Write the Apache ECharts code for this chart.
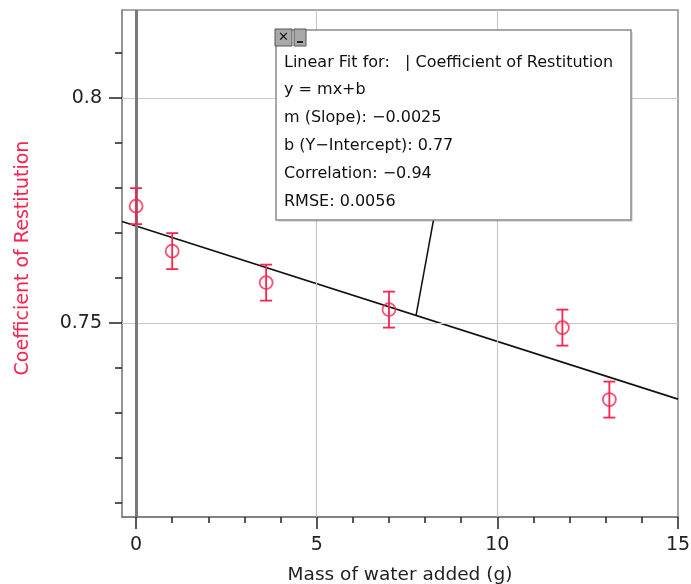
<!DOCTYPE html>
<html><head><meta charset="utf-8">
<script src="https://cdn.jsdelivr.net/npm/echarts@6/dist/echarts.min.js"></script>
<style>html,body{margin:0;padding:0;background:#fff}#c{width:691px;height:584px}</style>
</head><body><div id="c"></div>
<script>
const massX = [0, 1.0, 3.6, 7.0, 11.8, 13.1];
const cor = [0.776, 0.766, 0.759, 0.753, 0.749, 0.733];
const corErr = [0.004, 0.004, 0.004, 0.004, 0.004, 0.004];
const fitX = [-0.39, 15];
const fitY = [0.7726, 0.7331];
const xMajor = [0, 5, 10, 15];
const xMinor = [0,1,2,3,4,5,6,7,8,9,10,11,12,13,14,15];
const yMajor = [0.75, 0.8];
const yMinor = [0.71,0.72,0.73,0.74,0.75,0.76,0.77,0.78,0.79,0.80,0.81];
const fitText = [
  'Linear Fit for:   | Coefficient of Restitution',
  'y = mx+b',
  'm (Slope): \u22120.0025',
  'b (Y\u2212Intercept): 0.77',
  'Correlation: \u22120.94',
  'RMSE: 0.0056'
];
const X_MIN = -0.39, X_MAX = 15, Y_MIN = 0.7069, Y_MAX = 0.8196;
const RED = '#f7244f';
const FONT = '"DejaVu Sans", "Open Sans", sans-serif';

const chart = echarts.init(document.getElementById('c'), null, {renderer: 'canvas'});
const baseX = {type: 'value', min: X_MIN, max: X_MAX, splitLine: {show: false}};
const baseY = {type: 'value', min: Y_MIN, max: Y_MAX, splitLine: {show: false}};

const option = {
  animation: false,
  grid: {left: 122, top: 10, right: 13, bottom: 67, show: true, borderColor: '#8c8c8c', borderWidth: 1.5,
    backgroundColor: '#fff', containLabel: false, outerBoundsMode: 'none'},
  xAxis: [
    Object.assign({}, baseX, {
      axisLine: {show: true, onZero: false, lineStyle: {color: '#777', width: 1.5}},
      axisTick: {show: true, customValues: xMajor, length: 12, lineStyle: {color: '#222', width: 1.5}},
      axisLabel: {show: true, customValues: xMajor, color: '#222', fontSize: 19, fontFamily: FONT, margin: 19},
      name: 'Mass of water added (g)', nameLocation: 'middle', nameGap: 49,
      nameTextStyle: {color: '#222', fontSize: 18.5, fontFamily: FONT}
    }),
    Object.assign({}, baseX, {
      position: 'bottom',
      axisLine: {show: false, onZero: false},
      axisTick: {show: true, customValues: xMinor, length: 6, lineStyle: {color: '#222', width: 1.5}},
      axisLabel: {show: false}
    })
  ],
  yAxis: [
    Object.assign({}, baseY, {
      axisLine: {show: true, onZero: false, lineStyle: {color: '#8c8c8c', width: 1.5}},
      axisTick: {show: true, customValues: yMajor, length: 13, lineStyle: {color: '#222', width: 1.5}},
      axisLabel: {show: true, customValues: yMajor, color: '#222', fontSize: 19, fontFamily: FONT, margin: 20,
        formatter: v => (Math.round(v * 100) / 100).toString()},
      name: 'Coefficient of Restitution', nameLocation: 'middle', nameGap: 89,
      nameTextStyle: {color: RED, fontSize: 19, fontFamily: FONT, padding: [0, 0, 0, 11]}
    }),
    Object.assign({}, baseY, {
      position: 'left',
      axisLine: {show: false, onZero: false},
      axisTick: {show: true, customValues: yMinor, length: 7, lineStyle: {color: '#222', width: 1.5}},
      axisLabel: {show: false}
    })
  ],
  series: [
    {
      type: 'line', data: [], xAxisIndex: 0, yAxisIndex: 0, silent: true,
      markLine: {
        symbol: 'none', silent: true, label: {show: false},
        lineStyle: {color: '#c8c8c8', width: 1.2, type: 'solid'},
        data: [
          ...xMajor.filter(v => v > 0 && v < 15).map(v => ({xAxis: v})),
          ...yMajor.map(v => ({yAxis: v}))
        ]
      }
    },
    {
      type: 'line', data: [], xAxisIndex: 0, yAxisIndex: 0, silent: true, z: 3,
      markLine: {
        symbol: 'none', silent: true, label: {show: false},
        lineStyle: {color: '#7a7a7a', width: 3, type: 'solid'},
        data: [{xAxis: 0}]
      }
    },
    {
      type: 'line', name: 'fit', xAxisIndex: 0, yAxisIndex: 0, showSymbol: false, z: 4,
      lineStyle: {color: '#111', width: 1.6},
      data: fitX.map((x, i) => [x, fitY[i]])
    },
    {
      type: 'custom', xAxisIndex: 0, yAxisIndex: 0, z: 5,
      data: massX.map((x, i) => [x, cor[i], corErr[i]]),
      renderItem: function (params, api) {
        const x = api.value(0), y = api.value(1), e = api.value(2);
        const top = api.coord([x, y + e]);
        const bot = api.coord([x, y - e]);
        const hw = 6;
        const st = {stroke: RED, lineWidth: 1.8};
        return {type: 'group', children: [
          {type: 'line', shape: {x1: top[0], y1: top[1], x2: bot[0], y2: bot[1]}, style: st},
          {type: 'line', shape: {x1: top[0] - hw, y1: top[1], x2: top[0] + hw, y2: top[1]}, style: st},
          {type: 'line', shape: {x1: bot[0] - hw, y1: bot[1], x2: bot[0] + hw, y2: bot[1]}, style: st}
        ]};
      }
    },
    {
      type: 'scatter', xAxisIndex: 0, yAxisIndex: 0, z: 6,
      symbol: 'circle', symbolSize: 13,
      itemStyle: {color: 'rgba(255,255,255,0)', borderColor: RED, borderWidth: 1.8},
      data: massX.map((x, i) => [x, cor[i]])
    }
  ]
};
chart.setOption(option);

// annotation box
const boxX = 276, boxY = 30, boxW = 355, boxH = 190;
const anchor = chart.convertToPixel({xAxisIndex: 0, yAxisIndex: 0}, [7.75, fitY[0] + (7.75 - fitX[0]) * (fitY[1] - fitY[0]) / (fitX[1] - fitX[0])]);
const elems = [
  {type: 'line', shape: {x1: 433.5, y1: boxY + boxH, x2: anchor[0], y2: anchor[1]}, style: {stroke: '#111', lineWidth: 1.5}, z: 50},
  {type: 'rect', shape: {x: boxX + 2, y: boxY + 2, width: boxW, height: boxH}, style: {fill: 'rgba(0,0,0,0.12)'}, z: 50},
  {type: 'rect', shape: {x: boxX, y: boxY, width: boxW, height: boxH}, style: {fill: '#fff', stroke: '#8a8a8a', lineWidth: 1.5}, z: 51},
  {type: 'rect', shape: {x: 275, y: 29, width: 17, height: 17}, style: {fill: '#a9a9a9', stroke: '#555', lineWidth: 1}, z: 52},
  {type: 'text', style: {x: 283.5, y: 38, text: '\u2715', fill: '#111', fontSize: 13, fontWeight: 'bold', align: 'center', verticalAlign: 'middle', fontFamily: FONT}, z: 53},
  {type: 'rect', shape: {x: 294, y: 29, width: 12, height: 17}, style: {fill: '#a9a9a9', stroke: '#555', lineWidth: 1}, z: 52},
  {type: 'rect', shape: {x: 297, y: 41, width: 6, height: 2}, style: {fill: '#222'}, z: 53}
];
fitText.forEach((t, i) => {
  elems.push({type: 'text', style: {x: 284, y: 62.5 + i * 27.8, text: t, fill: '#111', fontSize: 16, fontFamily: FONT, verticalAlign: 'middle'}, z: 53});
});
chart.setOption({graphic: {elements: elems}});
</script>
</body></html>
